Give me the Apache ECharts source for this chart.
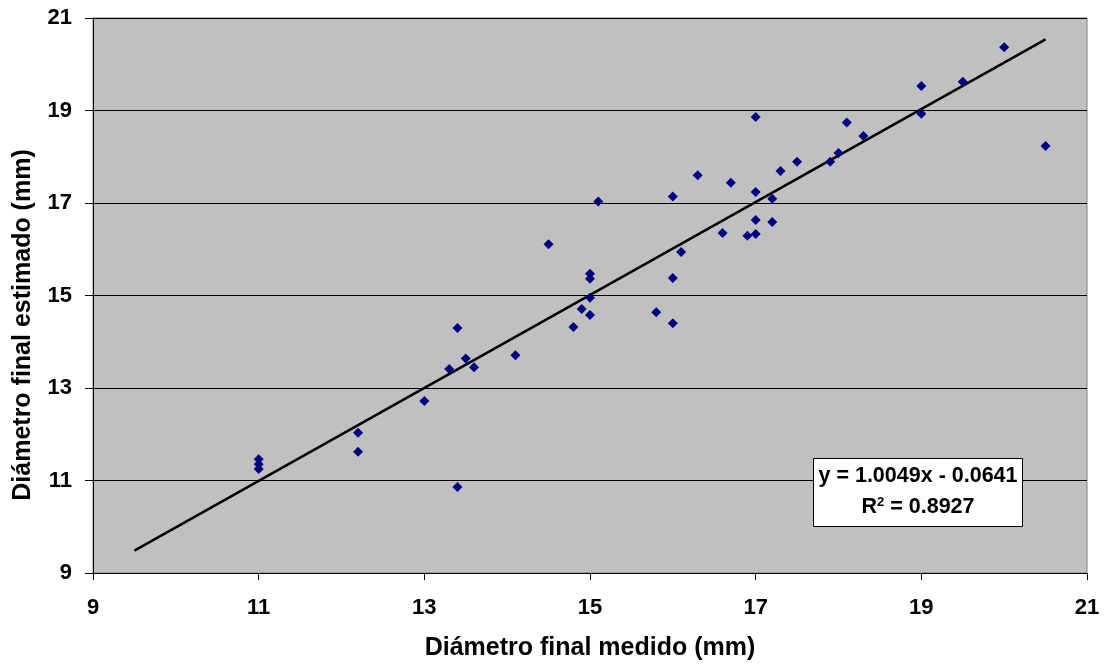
<!DOCTYPE html>
<html>
<head>
<meta charset="utf-8">
<script src="https://cdn.jsdelivr.net/npm/echarts@6/dist/echarts.min.js"></script>
<style>
  html, body { margin: 0; padding: 0; background: #fff; }
  #main { width: 1104px; height: 666px; }
</style>
</head>
<body>
<div id="main"></div>
<script>
// medido (x) / estimado (y)
const medido = [
  11, 11, 11, 12.2, 12.2, 13, 13.3, 13.4, 13.4, 13.5, 13.6, 14.1, 14.5, 14.8, 14.9,
  15, 15, 15, 15, 15.1, 15.8, 16, 16, 16, 16.1, 16.3, 16.6, 16.7, 16.9,
  17, 17, 17, 17, 17.2, 17.2, 17.3, 17.5, 17.9, 18, 18.1, 18.3,
  19, 19, 19.5, 20, 20.5
]
const estimado = [
  11.46, 11.35, 11.25, 12.03, 11.62, 12.72, 13.41, 14.3, 10.86, 13.64, 13.45, 13.71, 16.11, 14.32, 14.71,
  15.47, 15.36, 14.95, 14.58, 17.03, 14.64, 17.14, 15.38, 14.4, 15.94, 17.6, 16.35, 17.44, 16.29,
  18.86, 17.24, 16.63, 16.33, 17.09, 16.59, 17.69, 17.89, 17.89, 18.08, 18.74, 18.45,
  19.53, 18.93, 19.62, 20.37, 18.23
]
// tendencia lineal
const slope = 1.0049
const intercept = -0.0641
const trendX = [9.5, 20.5]

const pts = medido.map((x, i) => [x, estimado[i]])
const trend = trendX.map((x) => [x, slope * x + intercept])

const font = 'Arial, "Liberation Sans", sans-serif'
const chart = echarts.init(document.getElementById('main'))

chart.setOption({
  animation: false,
  grid: {
    left: 93, right: 17, top: 18, bottom: 93,
    show: true,
    backgroundColor: '#C0C0C0',
    borderColor: '#808080',
    borderWidth: 1,
  },
  xAxis: {
    type: 'value',
    min: 9, max: 21, interval: 2,
    name: 'Diámetro final medido (mm)',
    nameLocation: 'middle',
    nameGap: 63,
    nameTextStyle: { fontFamily: font, fontWeight: 'bold', fontSize: 25, color: '#000' },
    axisLine: { show: true, onZero: false, lineStyle: { color: '#000', width: 1 } },
    axisTick: { show: true, length: 7, lineStyle: { color: '#000' } },
    axisLabel: { fontFamily: font, fontWeight: 'bold', fontSize: 22, color: '#000', margin: 24 },
    splitLine: { show: false },
  },
  yAxis: {
    type: 'value',
    min: 9, max: 21, interval: 2,
    axisLine: { show: true, onZero: false, lineStyle: { color: '#000', width: 1 } },
    axisTick: { show: true, length: 8, lineStyle: { color: '#000' } },
    axisLabel: { fontFamily: font, fontWeight: 'bold', fontSize: 22, color: '#000', margin: 21 },
    splitLine: { show: true, lineStyle: { color: '#000', width: 1 } },
  },
  series: [
    {
      type: 'line',
      data: trend,
      symbol: 'none',
      lineStyle: { color: '#000', width: 2.5 },
      z: 2,
    },
    {
      type: 'scatter',
      data: pts,
      symbol: 'diamond',
      symbolSize: 10,
      itemStyle: { color: '#000080', opacity: 1 },
      z: 3,
    },
  ],
  graphic: [
    {
      type: 'text',
      x: 23, y: 325,
      rotation: Math.PI / 2,
      z: 100,
      style: {
        text: 'Diámetro final estimado (mm)',
        font: 'bold 25px ' + font,
        fill: '#000',
        align: 'center',
        verticalAlign: 'middle',
      },
    },
    {
      type: 'group',
      left: 813,
      top: 458,
      z: 100,
      children: [
        {
          type: 'rect',
          z: 100,
          shape: { x: 0, y: 0, width: 209, height: 68 },
          style: { fill: '#fff', stroke: '#000', lineWidth: 1 },
        },
        {
          type: 'text',
          z: 101,
          x: 104.5, y: 18,
          style: {
            text: 'y = 1.0049x - 0.0641',
            font: 'bold 21.5px ' + font,
            fill: '#000',
            align: 'center',
            verticalAlign: 'middle',
          },
        },
        {
          type: 'text',
          z: 101,
          x: 104.5, y: 49,
          style: {
            text: '{b|R}{s|2}{b| = 0.8927}',
            align: 'center',
            verticalAlign: 'middle',
            rich: {
              b: { font: 'bold 21.5px ' + font, fill: '#000', color: '#000' },
              s: { font: 'bold 13px ' + font, fill: '#000', color: '#000', verticalAlign: 'top', padding: [0, 0, 10, 0] },
            },
          },
        },
      ],
    },
  ],
})
</script>
</body>
</html>
